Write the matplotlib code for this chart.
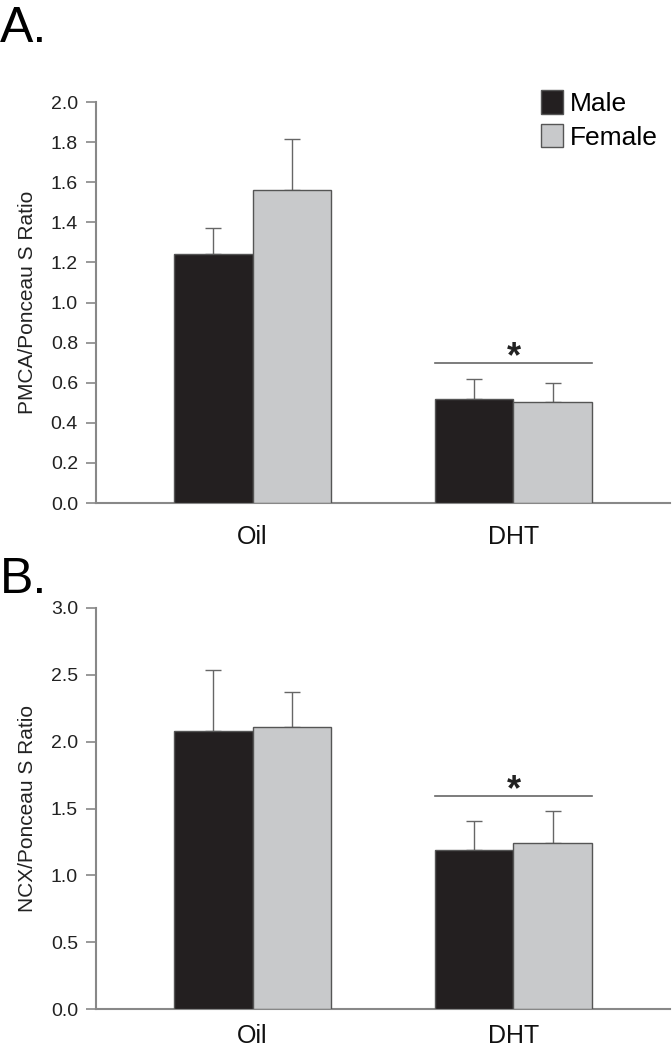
import matplotlib
matplotlib.use("Agg")
import matplotlib.pyplot as plt
import numpy as np

plt.rcParams['font.family'] = ['Liberation Sans', 'DejaVu Sans']

groups = ["Oil", "DHT"]
series = ["Male", "Female"]
pmca_male = [1.24, 0.52]
pmca_female = [1.56, 0.505]
pmca_male_err = [0.13, 0.10]
pmca_female_err = [0.255, 0.095]
pmca_sig = 0.70
ncx_male = [2.08, 1.19]
ncx_female = [2.11, 1.24]
ncx_male_err = [0.455, 0.215]
ncx_female_err = [0.26, 0.24]
ncx_sig = 1.59

male_color = "#231f20"
female_color = "#c8c9cb"
edge = "#555555"
axis_gray = "#888888"

fig = plt.figure(figsize=(6.72, 10.5), dpi=100)
W, H = 672, 1050

def make_ax(left, right, top, bottom):
    return fig.add_axes([left / W, 1 - bottom / H, (right - left) / W, (bottom - top) / H])

ax1 = make_ax(96, 670, 102, 503)
ax2 = make_ax(96, 670, 608, 1009)

def draw(ax, m, f, me, fe, sig, ymax, step, ylabel, fmt, xpad):
    x = np.arange(1, len(groups) + 1)
    w = 0.3
    ax.bar(x - w / 2, m, w, color=male_color, edgecolor=edge, linewidth=1.0, label=series[0], zorder=3)
    ax.bar(x + w / 2, f, w, color=female_color, edgecolor=edge, linewidth=1.0, label=series[1], zorder=3)
    ax.errorbar(x - w / 2, m, yerr=[np.zeros(len(m)), me], fmt='none', ecolor="#666666",
                elinewidth=1.0, capsize=6, capthick=1.0, zorder=2)
    ax.errorbar(x + w / 2, f, yerr=[np.zeros(len(f)), fe], fmt='none', ecolor="#666666",
                elinewidth=1.0, capsize=6, capthick=1.0, zorder=2)
    ax.plot([x[1] - w, x[1] + w], [sig, sig], color="#666666", linewidth=1.2)
    ax.text(x[1], sig - ymax * 0.03, "*", ha='center', va='bottom', fontsize=26, fontweight='bold', color="#222222")
    ax.set_xlim(0.4, 2.6)
    ax.set_ylim(0, ymax)
    ax.set_yticks(np.arange(0, ymax + step / 2, step))
    ax.set_yticklabels([fmt.format(v) for v in np.arange(0, ymax + step / 2, step)])
    ax.set_xticks(x)
    ax.set_xticklabels(groups, fontsize=18)
    for s in ['top', 'right']:
        ax.spines[s].set_visible(False)
    for s in ['left', 'bottom']:
        ax.spines[s].set_color(axis_gray)
        ax.spines[s].set_linewidth(1.5)
    ax.tick_params(axis='y', direction='out', length=7, width=1.2, color=axis_gray,
                   labelsize=14, labelcolor="#222222", pad=6)
    ax.tick_params(axis='x', length=0, pad=xpad, labelcolor="#111111")
    ax.set_ylabel(ylabel, fontsize=15, color="#222222", labelpad=10)

draw(ax1, pmca_male, pmca_female, pmca_male_err, pmca_female_err, pmca_sig, 2.0, 0.2,
     "PMCA/Ponceau S Ratio", "{:.1f}", 16)
draw(ax2, ncx_male, ncx_female, ncx_male_err, ncx_female_err, ncx_sig, 3.0, 0.5,
     "NCX/Ponceau S Ratio", "{:.1f}", 11)

leg = ax1.legend(loc='upper left', bbox_to_anchor=((541 - 96) / 574, 1.03),
                 frameon=False, fontsize=19, handlelength=0.85, handleheight=1.0,
                 handletextpad=0.25, labelspacing=0.3, borderaxespad=0, borderpad=0)

fig.text(0 / W, 1 - 42 / H, "A.", fontsize=36, va='baseline', ha='left')
fig.text(0 / W, 1 - 593 / H, "B.", fontsize=36, va='baseline', ha='left')

fig.savefig("out.png", dpi=100)
